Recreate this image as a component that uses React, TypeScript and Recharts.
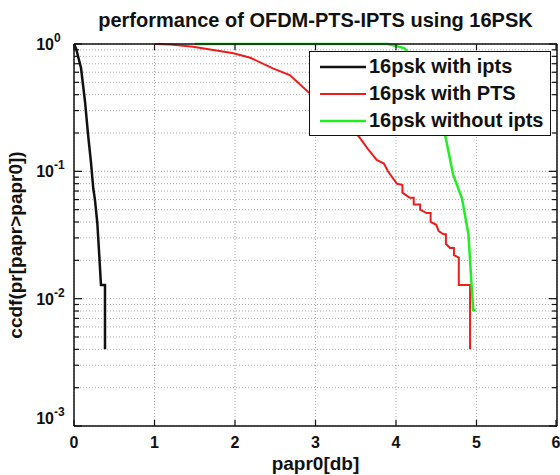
import React from 'react';
import { CartesianGrid, Legend, Line, LineChart, XAxis, YAxis } from 'recharts';

// ccdf curves (x = papr0 in dB, y = ccdf)
const IPTS_X = [0, 0.025, 0.087, 0.137, 0.175, 0.21, 0.24, 0.26, 0.29, 0.315, 0.335, 0.385, 0.385];
const IPTS_Y = [1, 0.925, 0.65, 0.352, 0.193, 0.119, 0.073, 0.06, 0.039, 0.0213, 0.0128, 0.0128, 0.004];

const PTS_X = [1.0, 1.2, 1.48, 1.98, 2.19, 2.47, 2.68, 2.91, 3.1, 3.3, 3.54, 3.65, 3.76, 3.85, 3.9, 4.01, 4.08, 4.08, 4.17, 4.22, 4.22, 4.3, 4.3, 4.38, 4.43, 4.43, 4.5, 4.53, 4.59, 4.62, 4.62, 4.67, 4.72, 4.72, 4.78, 4.78, 4.92, 4.92];
const PTS_Y = [1, 0.99, 0.95, 0.845, 0.78, 0.644, 0.57, 0.42, 0.34, 0.27, 0.187, 0.15, 0.123, 0.115, 0.1, 0.08, 0.078, 0.068, 0.062, 0.062, 0.055, 0.055, 0.05, 0.047, 0.047, 0.04, 0.038, 0.034, 0.032, 0.032, 0.027, 0.025, 0.025, 0.022, 0.021, 0.0128, 0.0128, 0.004];

const NOIPTS_X = [1.5, 3.9, 4.1, 4.3, 4.45, 4.55, 4.62, 4.71, 4.82, 4.9, 4.92, 4.94, 4.96, 4.99];
const NOIPTS_Y = [1, 1, 0.93, 0.7, 0.42, 0.27, 0.18, 0.094, 0.061, 0.032, 0.02, 0.0124, 0.0081, 0.0081];

const X_TICKS = [0, 1, 2, 3, 4, 5, 6];
const Y_TICKS = [
  0.001, 0.002, 0.003, 0.004, 0.005, 0.006, 0.007, 0.008, 0.009,
  0.01, 0.02, 0.03, 0.04, 0.05, 0.06, 0.07, 0.08, 0.09,
  0.1, 0.2, 0.3, 0.4, 0.5, 0.6, 0.7, 0.8, 0.9, 1,
];
const DECADES: Record<string, string> = { '1': '0', '0.1': '-1', '0.01': '-2', '0.001': '-3' };

// the black curve sits on the top/right axes (same domains) so the box edges get drawn
const SERIES = [
  { name: '16psk with ipts', color: '#111111', width: 2.5, xs: IPTS_X, ys: IPTS_Y, xId: 't', yId: 'r' },
  { name: '16psk with PTS', color: '#ee1c1c', width: 2, xs: PTS_X, ys: PTS_Y, xId: 0, yId: 0 },
  { name: '16psk without ipts', color: '#22ee22', width: 2.5, xs: NOIPTS_X, ys: NOIPTS_Y, xId: 0, yId: 0 },
];

const FONT = '"Liberation Sans", Arial, sans-serif';
const INK = '#111';

const toRows = (xs: number[], ys: number[]) => xs.map((x, i) => ({ x, y: ys[i] }));

const LeftTick = (props: any) => {
  const { x, y, payload } = props;
  const exp = DECADES[String(payload.value)];
  const major = exp !== undefined;
  const shift = payload.value === 0.001 ? -8 : 0;
  return (
    <g>
      <line x1={x} x2={x + (major ? 8 : 5)} y1={y} y2={y} stroke={INK} strokeWidth={1.2} />
      {major && (
        <g fontFamily={FONT} fontWeight="bold" fill={INK}>
          <text x={x - 20} y={y + 6 + shift} textAnchor="end" fontSize={16}>10</text>
          <text x={x - 20} y={y - 2 + shift} textAnchor="start" fontSize={12}>{exp}</text>
        </g>
      )}
    </g>
  );
};

const RightTick = (props: any) => {
  const { x, y, payload } = props;
  const major = DECADES[String(payload.value)] !== undefined;
  return <line x1={x} x2={x - (major ? 8 : 5)} y1={y} y2={y} stroke={INK} strokeWidth={1.2} />;
};

const BottomTick = (props: any) => {
  const { x, y, payload } = props;
  return (
    <g>
      <line x1={x} x2={x} y1={y} y2={y - 6} stroke={INK} strokeWidth={1.2} />
      <text x={x} y={y + 22} textAnchor="middle" fontFamily={FONT} fontWeight="bold" fontSize={16} fill={INK}>
        {payload.value}
      </text>
    </g>
  );
};

const TopTick = (props: any) => {
  const { x, y } = props;
  return <line x1={x} x2={x} y1={y} y2={y + 6} stroke={INK} strokeWidth={1.2} />;
};

const LegendBox = () => (
  <div
    style={{
      border: `1.5px solid ${INK}`,
      background: '#fff',
      boxSizing: 'border-box',
      height: 85,
      padding: '1px 0 3px 10px',
    }}
  >
    {SERIES.map((s) => (
      <div key={s.name} style={{ display: 'flex', alignItems: 'center', height: 27 }}>
        <svg width={46} height={6}>
          <line x1={0} x2={46} y1={3} y2={3} stroke={s.color} strokeWidth={s.width} />
        </svg>
        <span style={{ marginLeft: 3, fontFamily: FONT, fontWeight: 'bold', fontSize: 20, color: INK, whiteSpace: 'nowrap' }}>
          {s.name}
        </span>
      </div>
    ))}
  </div>
);

export default function App() {
  return (
    <div style={{ position: 'absolute', left: 0, top: 0, background: '#fff' }}>
      <LineChart width={560} height={475} margin={{ top: 43, right: 2, bottom: 0, left: 0 }}>
        <CartesianGrid stroke="#aaa" strokeDasharray="1 2" strokeWidth={1} />
        <XAxis
          dataKey="x"
          type="number"
          domain={[0, 6]}
          ticks={X_TICKS}
          height={49}
          tickSize={0}
          tickMargin={0}
          tickLine={false}
          tick={<BottomTick />}
          axisLine={{ stroke: INK, strokeWidth: 1.5 }}
          label={(p: any) => (
            <text
              x={p.viewBox.x + p.viewBox.width / 2}
              y={p.viewBox.y + 44}
              textAnchor="middle"
              fontFamily={FONT}
              fontWeight="bold"
              fontSize={19}
              fill={INK}
            >
              papr0[db]
            </text>
          )}
        />
        <XAxis
          xAxisId="t"
          dataKey="x"
          orientation="top"
          type="number"
          domain={[0, 6]}
          ticks={X_TICKS}
          height={1}
          tickSize={0}
          tickMargin={0}
          tickLine={false}
          tick={<TopTick />}
          axisLine={{ stroke: INK, strokeWidth: 1.5 }}
          label={(p: any) => (
            <text
              x={p.viewBox.x + p.viewBox.width / 2}
              y={27}
              textAnchor="middle"
              fontFamily={FONT}
              fontWeight="bold"
              fontSize={20}
              fill={INK}
            >
              performance of OFDM-PTS-IPTS using 16PSK
            </text>
          )}
        />
        <YAxis
          type="number"
          scale="log"
          domain={[0.001, 1]}
          ticks={Y_TICKS}
          interval={0}
          width={74}
          tickSize={0}
          tickMargin={0}
          tickLine={false}
          tick={<LeftTick />}
          axisLine={{ stroke: INK, strokeWidth: 1.5 }}
          label={(p: any) => {
            const cx = 22;
            const cy = p.viewBox.y + p.viewBox.height / 2 + 10;
            return (
              <text
                x={cx}
                y={cy}
                transform={`rotate(-90 ${cx} ${cy})`}
                textAnchor="middle"
                fontFamily={FONT}
                fontWeight="bold"
                fontSize={19}
                fill={INK}
              >
                ccdf(pr[papr&gt;papr0])
              </text>
            );
          }}
        />
        <YAxis
          yAxisId="r"
          orientation="right"
          type="number"
          scale="log"
          domain={[0.001, 1]}
          ticks={Y_TICKS}
          interval={0}
          width={1}
          tickSize={0}
          tickMargin={0}
          tickLine={false}
          tick={<RightTick />}
          axisLine={{ stroke: INK, strokeWidth: 1.5 }}
        />
        {SERIES.map((s) => (
          <Line
            key={s.name}
            xAxisId={s.xId}
            yAxisId={s.yId}
            data={toRows(s.xs, s.ys)}
            dataKey="y"
            name={s.name}
            type="linear"
            stroke={s.color}
            strokeWidth={s.width}
            dot={false}
            isAnimationActive={false}
          />
        ))}
        <Legend
          layout="vertical"
          align="center"
          verticalAlign="middle"
          wrapperStyle={{ left: 309, top: 51, width: 242 }}
          content={() => <LegendBox />}
        />
      </LineChart>
    </div>
  );
}
